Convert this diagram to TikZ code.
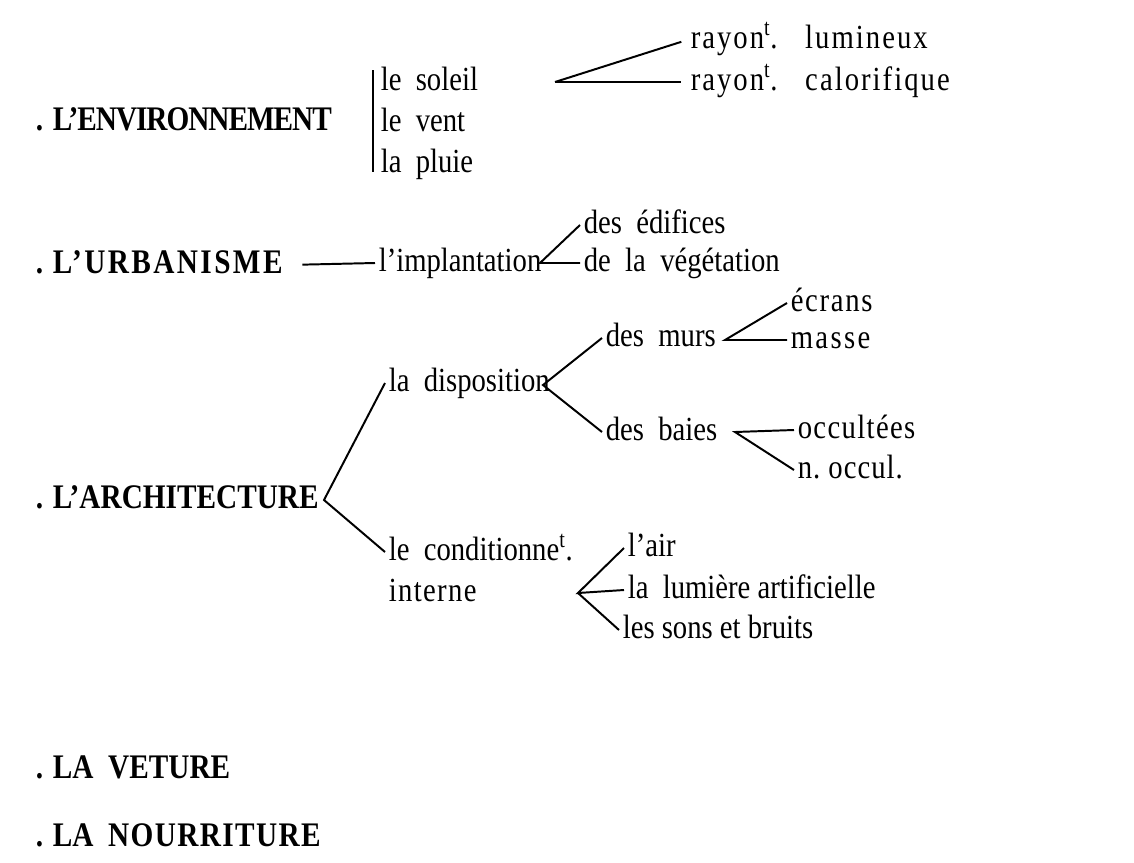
\documentclass[tikz,border=0pt]{standalone}
\usepackage{fontspec}
\setmainfont{Liberation Serif}[FakeStretch=0.85]
\usetikzlibrary{positioning}
\tikzstyle{T} = [anchor=west,inner sep=2pt,text height=17pt,text depth=5pt,font=\fontsize{24}{28}\selectfont]
\tikzstyle{H} = [T,font=\fontsize{24.5}{28}\selectfont\bfseries]
\newcommand{\supt}[1]{\textsuperscript{#1}}

\begin{document}
\begin{tikzpicture}[x=0.025cm,y=-0.025cm,line width=1.4pt]
  \useasboundingbox (0,0) rectangle (1134,863);

  % environnement
  \node [H] (env) at (32,122) {. \addfontfeature{LetterSpace=-3}L'ENVIRONNEMENT};
  \node [T] (soleil) at (377,82) {le\ \ soleil};
  \node [T,below=0.6mm of soleil.south west,anchor=north west] (vent) {le\ \ vent};
  \node [T,below=0.6mm of vent.south west,anchor=north west] (pluie) {la\ \ pluie};
  \coordinate (bt) at (373,70);
  \coordinate (bb) at (373,172);
  \draw (bt) -- (bb);

  \node [T] (lum) at (687,40) {\addfontfeature{LetterSpace=6}rayon\supt{t}.\ \ \ lumineux};
  \node [T] (calo) at (687,82) {\addfontfeature{LetterSpace=6}rayon\supt{t}.\ \ \ calorifique};
  \coordinate (sv) at (555,82);
  \draw [shorten <=1.5mm] (lum.west) -- (sv);
  \draw [shorten >=1.5mm] (sv) -- (calo.west);

  % urbanisme
  \node [H] (urb) at (32,265) {. \addfontfeature{LetterSpace=7}L'URBANISME};
  \node [T] (impl) at (375,263) {l'implantation};
  \draw [shorten <=4mm] (urb.east) -- (impl.west);
  \node [T] (edif) at (580,225) {des\ \ édifices};
  \node [T] (veget) at (580,263) {de\ \ la\ \ végétation};
  \coordinate (iv) at (540,263);
  \draw (edif.west) -- (iv) -- (veget.west);

  % architecture
  \node [H] (arch) at (32,500) {. L'ARCHITECTURE};
  \node [T] (dispo) at (385,383) {la\ \ disposition};
  \node [T] (cond) at (385,552) {le\ \ conditionne\supt{t}.};
  \node [T,below=0.6mm of cond.south west,anchor=north west] (interne) {\addfontfeature{LetterSpace=4}interne};
  \coordinate (av) at (324,500);
  \draw (dispo.west) -- (av) -- (cond.west);

  \node [T] (murs) at (602,338) {des\ \ murs};
  \node [T] (baies) at (602,432) {des\ \ baies};
  \coordinate (dv) at (543,385);
  \draw (murs.west) -- (dv) -- (baies.west);

  \node [T] (ecrans) at (787,303) {\addfontfeature{LetterSpace=5}écrans};
  \node [T] (masse) at (787,340) {\addfontfeature{LetterSpace=7}masse};
  \coordinate (mv) at (725,340);
  \draw (ecrans.west) -- (mv) -- (masse.west);

  \node [T] (occ) at (794,430) {\addfontfeature{LetterSpace=4}occultées};
  \node [T] (nocc) at (794,470) {\addfontfeature{LetterSpace=3}n.\ occul.};
  \coordinate (bv) at (735,432);
  \draw (occ.west) -- (bv) -- (nocc.west);

  \node [T] (air) at (624,548) {l'air};
  \node [T] (lumiere) at (624,590) {la\ \ lumière\ artificielle};
  \node [T] (sons) at (619,630) {les\ sons\ et\ bruits};
  \coordinate (cv) at (578,593);
  \draw (air.west) -- (cv) -- (lumiere.west);
  \draw (cv) -- (sons.west);

  % veture, nourriture
  \node [H] (vet) at (32,770) {. LA\ \ VETURE};
  \node [H] (nour) at (32,838) {. LA\ \ \addfontfeature{LetterSpace=4}NOURRITURE};
\end{tikzpicture}
\end{document}
